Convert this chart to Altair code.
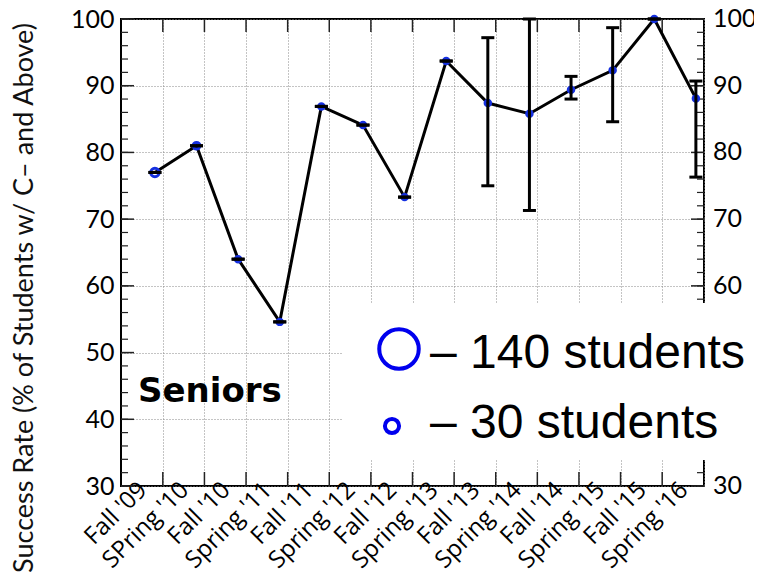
import json
import altair as alt
import pandas as pd

# ---- data ----
terms = ["Fall '09", "SPring '10", "Fall '10", "Spring '11", "Fall '11", "Spring '12",
         "Fall '12", "Spring '13", "Fall '13", "Spring '14", "Fall '14", "Spring '15",
         "Fall '15", "Spring '16"]
rates = [77.0, 81.0, 64.0, 54.6, 86.9, 84.1, 73.3, 93.7, 87.4, 85.8, 89.4, 92.3, 100.0, 88.1]
err_low = [77.0, 81.0, 64.0, 54.6, 86.9, 84.1, 73.3, 93.7, 75.0, 71.3, 88.0, 84.6, 100.0, 76.3]
err_high = [77.0, 81.0, 64.0, 54.6, 86.9, 84.1, 73.3, 93.7, 97.2, 100.0, 91.4, 98.7, 100.0, 90.7]
marker_size = [70, 45, 30, 30, 30, 30, 30, 30, 30, 30, 30, 30, 30, 30]
y_ticks = [30, 40, 50, 60, 70, 80, 90, 100]
y_minor = list(range(30, 101, 2))
legend_big = "– 140 students"
legend_small = "– 30 students"
panel_label = "Seniors"
y_title = "Success Rate (% of Students w/ C– and Above)"

W, H = 583, 467
OFF = 0.19  # tick offset from data points (in category units)

df = pd.DataFrame({"i": list(range(len(terms))), "term": terms, "rate": rates,
                   "lo": err_low, "hi": err_high, "size": marker_size})
tick_x = pd.DataFrame({"t": [i + OFF for i in range(len(terms) - 1)]})
ymaj = pd.DataFrame({"v": y_ticks})
ymin = pd.DataFrame({"v": y_minor})
one = pd.DataFrame({"a": [0]})

xscale = alt.Scale(domain=[-0.815, 13.195], nice=False, zero=False)
yscale = alt.Scale(domain=[30, 100], nice=False, zero=False)

xaxis = alt.Axis(values=[round(i + OFF, 3) for i in range(len(terms))],
                 labelExpr=json.dumps(terms) + "[round(datum.value)]",
                 grid=True, gridDash=[1, 2], gridColor="#888", gridWidth=1,
                 ticks=False, domain=False, labelAngle=315, labelAlign="right",
                 labelBaseline="middle", labelPadding=0, labelOffset=-20,
                 labelFont="Open Sans", labelFontSize=24, labelColor="black",
                 title=None, labelOverlap=False, labelBound=False, labelFlush=False)
yaxis = alt.Axis(values=y_ticks, grid=True, gridDash=[1, 2], gridColor="#888", gridWidth=1,
                 ticks=False, domain=False, labelFont="Lato", labelFontSize=25,
                 labelColor="black", labelPadding=7, title=None)

def X(field):
    return alt.X(field, scale=xscale, axis=xaxis)

def Y(field):
    return alt.Y(field, scale=yscale, axis=yaxis)

# inward ticks on the frame
left_maj = alt.Chart(ymaj).mark_rule(color="#222", strokeWidth=1.5).encode(
    x=alt.value(0), x2=alt.value(13), y=Y("v:Q"))
left_min = alt.Chart(ymin).mark_rule(color="#222", strokeWidth=1.2).encode(
    x=alt.value(0), x2=alt.value(7), y=Y("v:Q"))
right_maj = alt.Chart(ymaj).mark_rule(color="#222", strokeWidth=1.5).encode(
    x=alt.value(W), x2=alt.value(W - 13), y=Y("v:Q"))
right_min = alt.Chart(ymin).mark_rule(color="#222", strokeWidth=1.2).encode(
    x=alt.value(W), x2=alt.value(W - 7), y=Y("v:Q"))
bot_ticks = alt.Chart(tick_x).mark_rule(color="#222", strokeWidth=1.5).encode(
    x=X("t:Q"), y=alt.value(H), y2=alt.value(H - 14))
top_ticks = alt.Chart(tick_x).mark_rule(color="#222", strokeWidth=1.5).encode(
    x=X("t:Q"), y=alt.value(0), y2=alt.value(13))

# right-hand labels (50 and 40 are hidden behind the legend box in the original)
right_labels = alt.Chart(ymaj).transform_filter(
    "datum.v > 55 || datum.v < 35"
).mark_text(
    align="left", baseline="middle", font="Lato", fontSize=25, color="black"
).encode(x=alt.value(W + 9), y=Y("v:Q"), text=alt.Text("v:Q", format="d"))

# legend box
white_box = alt.Chart(one).mark_rect(color="white").encode(
    x=alt.value(222), x2=alt.value(640), y=alt.value(284), y2=alt.value(441))
big_circ = alt.Chart(one).mark_point(
    shape="circle", filled=False, color="#0000ee", strokeWidth=4, size=1560, opacity=1
).encode(x=alt.value(278), y=alt.value(330))
small_circ = alt.Chart(one).mark_point(
    shape="circle", filled=False, color="#0000ee", strokeWidth=4, size=200, opacity=1
).encode(x=alt.value(271), y=alt.value(407))
leg_big = alt.Chart(one).mark_text(
    align="left", baseline="alphabetic", font="Liberation Sans", fontSize=48,
    color="black", text=legend_big).encode(x=alt.value(309), y=alt.value(349))
leg_small = alt.Chart(one).mark_text(
    align="left", baseline="alphabetic", font="Liberation Sans", fontSize=48,
    color="black", text=legend_small).encode(x=alt.value(309), y=alt.value(419))

seniors = alt.Chart(one).mark_text(
    align="left", baseline="alphabetic", font="DejaVu Sans", fontWeight="bold",
    fontSize=34, color="black", text=panel_label).encode(x=alt.value(17), y=alt.value(383))
ytitle = alt.Chart(one).mark_text(
    angle=270, align="center", baseline="middle", font="Lato", fontSize=27,
    color="#111", text=y_title).encode(x=alt.value(-96), y=alt.value(279))

# data layers
line = alt.Chart(df).mark_line(color="black", strokeWidth=3).encode(x=X("i:Q"), y=Y("rate:Q"))
points = alt.Chart(df).mark_point(shape="circle", filled=False, color="#1530e0",
                                  strokeWidth=3, opacity=1).encode(
    x=X("i:Q"), y=Y("rate:Q"), size=alt.Size("size:Q", scale=None, legend=None))
err = alt.Chart(df).mark_rule(color="black", strokeWidth=3).encode(
    x=X("i:Q"), y=Y("lo:Q"), y2="hi:Q")
cap_lo = alt.Chart(df).mark_tick(orient="horizontal", color="black", size=13,
                                 thickness=3, opacity=1).encode(x=X("i:Q"), y=Y("lo:Q"))
cap_hi = alt.Chart(df).mark_tick(orient="horizontal", color="black", size=13,
                                 thickness=3, opacity=1).encode(x=X("i:Q"), y=Y("hi:Q"))

chart = alt.layer(
    left_maj, left_min, right_maj, right_min, bot_ticks, top_ticks, right_labels,
    white_box, big_circ, small_circ, leg_big, leg_small, seniors, ytitle,
    line, points, err, cap_lo, cap_hi
).properties(
    width=W, height=H,
    autosize=alt.AutoSizeParams(type="none"),
    padding={"left": 113, "top": 11, "right": 50, "bottom": 91},
    background="white",
).configure_view(stroke="black", strokeWidth=2)

chart.save("out.html", embed_options={"renderer": "svg", "actions": False})
